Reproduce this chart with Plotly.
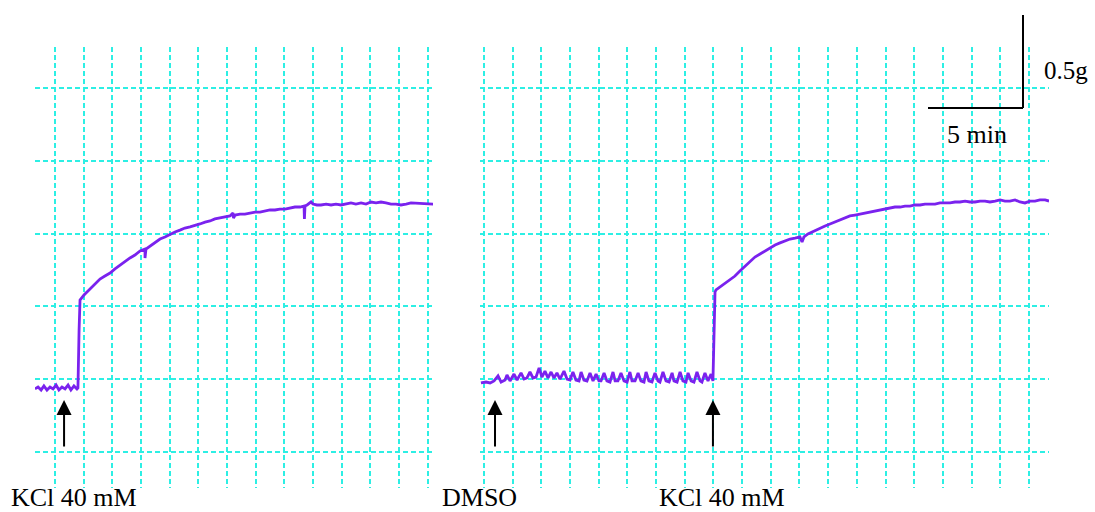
import plotly.graph_objects as go

W, H = 1095, 512

# ---------------- data (time in min, tension in g relative to left baseline) ----------------
# Left recording: KCl 40 mM
left_time = [0.00, 0.16, 0.32, 0.47, 0.63, 0.79, 0.95, 1.11, 1.26, 1.42, 1.58, 1.74, 1.89, 2.05, 2.21, 2.26,
             2.32, 2.34, 2.37, 2.58, 2.79, 3.00, 3.21, 3.42, 3.68, 3.95, 4.21, 4.47, 4.74, 5.00, 5.26,
             5.53, 5.79, 5.79, 5.84, 6.05, 6.32, 6.58, 6.84, 7.11, 7.37, 7.63, 7.89, 8.16, 8.42, 8.68,
             8.95, 9.21, 9.47, 9.74, 10.00, 10.26, 10.42, 10.45, 10.53, 10.79, 11.05, 11.32, 11.58, 11.84,
             12.11, 12.37, 12.63, 12.89, 13.16, 13.42, 13.68, 13.95, 14.16, 14.18, 14.21, 14.32, 14.53,
             14.63, 14.84, 15.05, 15.32, 15.58, 15.84, 16.11, 16.37, 16.63, 16.89, 17.16, 17.42, 17.68,
             17.95, 18.21, 18.47, 18.74, 19.00, 19.26, 19.53, 19.79, 20.95]
left_tension = [-0.005, 0.005, -0.011, 0.011, -0.011, 0.005, -0.005, 0.016, -0.011, 0.005, -0.005, 0.016,
                -0.011, 0.011, -0.005, 0.000,
                0.312, 0.473, 0.473, 0.500, 0.522, 0.543, 0.565, 0.586, 0.602, 0.618, 0.640, 0.661, 0.683,
                0.699, 0.715, 0.737, 0.747, 0.699, 0.747, 0.763, 0.780, 0.801, 0.812, 0.828, 0.839, 0.849,
                0.860, 0.866, 0.876, 0.882, 0.892, 0.898, 0.909, 0.914, 0.919, 0.925, 0.941, 0.914, 0.930,
                0.935, 0.935, 0.941, 0.946, 0.946, 0.952, 0.957, 0.957, 0.962, 0.962, 0.968, 0.973, 0.973,
                0.978, 0.909, 0.978, 0.984, 1.000, 0.989, 0.984, 0.984, 0.989, 0.984, 0.989, 0.984, 0.989,
                0.995, 0.989, 0.995, 0.989, 1.000, 0.995, 1.000, 0.995, 0.989, 0.989, 0.984, 0.989, 0.995,
                0.989]

# Right recording: DMSO then KCl 40 mM
right_time = [0.05, 0.32, 0.53, 0.74, 0.95, 1.11, 1.32, 1.42, 1.58, 1.79, 1.95, 2.16, 2.32, 2.47, 2.63, 2.79,
              2.95, 3.11, 3.26, 3.42, 3.58, 3.74, 3.89, 4.05, 4.21, 4.42, 4.58, 4.74, 4.89, 5.05, 5.21,
              5.32, 5.47, 5.63, 5.79, 5.95, 6.11, 6.26, 6.37, 6.53, 6.68, 6.84, 7.00, 7.11, 7.26, 7.42,
              7.58, 7.74, 7.89, 8.00, 8.16, 8.32, 8.47, 8.63, 8.74, 8.89, 9.05, 9.21, 9.37, 9.47, 9.63,
              9.79, 9.95, 10.11, 10.21, 10.37, 10.53, 10.68, 10.84, 10.95, 11.11, 11.26, 11.42, 11.58,
              11.68, 11.84, 12.00, 12.16, 12.26,
              12.32, 12.37, 12.42, 12.63, 12.89, 13.16, 13.42, 13.68, 13.95, 14.21, 14.47, 14.74, 15.00,
              15.26, 15.53, 15.79, 16.05, 16.32, 16.58, 16.84, 16.95, 17.05, 17.26, 17.47, 17.68, 17.89,
              18.16, 18.42, 18.68, 18.95, 19.21, 19.47, 19.74, 20.00, 20.26, 20.53, 20.79, 21.05, 21.32,
              21.58, 21.84, 22.11, 22.37, 22.63, 22.89, 23.16, 23.42, 23.68, 23.95, 24.21, 24.47, 24.74,
              25.00, 25.26, 25.53, 25.79, 26.05, 26.32, 26.58, 26.84, 27.11, 27.37, 27.63, 27.89, 28.16,
              28.42, 28.68, 28.95, 29.21, 29.47, 29.74, 29.95]
right_tension = [0.027, 0.032, 0.027, 0.038, 0.065, 0.032, 0.043, 0.070, 0.038, 0.075, 0.043, 0.081, 0.048,
                 0.054, 0.086, 0.054, 0.059, 0.108, 0.059, 0.091, 0.054, 0.086, 0.054, 0.081, 0.048, 0.091,
                 0.048, 0.043, 0.086, 0.043, 0.038, 0.086, 0.043, 0.038, 0.081, 0.038, 0.075, 0.038, 0.038,
                 0.081, 0.038, 0.032, 0.086, 0.038, 0.038, 0.081, 0.038, 0.032, 0.086, 0.038, 0.038, 0.081,
                 0.038, 0.032, 0.086, 0.038, 0.032, 0.081, 0.038, 0.032, 0.086, 0.038, 0.032, 0.081, 0.038,
                 0.032, 0.086, 0.038, 0.032, 0.081, 0.038, 0.032, 0.086, 0.038, 0.032, 0.081, 0.038, 0.075,
                 0.038,
                 0.258, 0.516, 0.527, 0.543, 0.559, 0.581, 0.602, 0.629, 0.656, 0.683, 0.704, 0.720, 0.737,
                 0.753, 0.769, 0.780, 0.790, 0.801, 0.806, 0.812, 0.785, 0.812, 0.828, 0.839, 0.849, 0.860,
                 0.871, 0.882, 0.892, 0.903, 0.914, 0.925, 0.930, 0.935, 0.941, 0.946, 0.952, 0.957, 0.962,
                 0.968, 0.973, 0.973, 0.978, 0.978, 0.984, 0.984, 0.989, 0.989, 0.989, 0.995, 0.995, 0.995,
                 1.000, 1.000, 1.005, 1.000, 1.000, 1.005, 1.005, 1.000, 1.005, 1.011, 1.005, 1.005, 1.011,
                 1.000, 0.995, 1.005, 1.005, 1.011, 1.011, 1.005, 1.005, 1.000]

# drug additions (min)
left_events = [1.53]
left_event_labels = ["KCl 40 mM"]
right_events = [0.79, 12.26]
right_event_labels = ["DMSO", "KCl 40 mM"]

# scale bar
scale_time_min = 5
scale_tension_g = 0.5
scale_time_label = "5 min"
scale_tension_label = "0.5g"

# ---------------- layout helpers ----------------
PX_PER_MIN = 19.0
PX_PER_G = 186.0
Y_BASE_PX = 388.0          # pixel row of 0 g
TOP_PX, BOT_PX = 47, 488   # plot area rows
LEFT_X0, LEFT_X1 = 35, 433
RIGHT_X0, RIGHT_X1 = 480, 1049

def px2g(py):
    return (Y_BASE_PX - py) / PX_PER_G

yrange = [px2g(BOT_PX), px2g(TOP_PX)]
grid_dx = 28.68 / PX_PER_MIN
grid_dy = 72.8 / PX_PER_G

GRID = "#2DEFE4"
TRACE = "#7A22EE"
FONT = "Liberation Serif"

fig = go.Figure()
fig.add_trace(go.Scatter(x=left_time, y=left_tension, mode="lines",
                         line=dict(color=TRACE, width=2.8), xaxis="x", yaxis="y",
                         hoverinfo="skip", showlegend=False))
fig.add_trace(go.Scatter(x=right_time, y=right_tension, mode="lines",
                         line=dict(color=TRACE, width=2.8), xaxis="x2", yaxis="y2",
                         hoverinfo="skip", showlegend=False))

def xax(x0, x1, first_grid_px, anchor):
    return dict(domain=[x0 / W, x1 / W], range=[0, (x1 - x0) / PX_PER_MIN], anchor=anchor,
                showgrid=True, gridcolor=GRID, gridwidth=2, griddash="5px,3px",
                tickmode="linear", tick0=(first_grid_px - x0) / PX_PER_MIN, dtick=grid_dx,
                showticklabels=False, ticks="", zeroline=False, showline=False, fixedrange=True)

def yax(anchor):
    return dict(domain=[1 - BOT_PX / H, 1 - TOP_PX / H], range=yrange, anchor=anchor,
                showgrid=True, gridcolor=GRID, gridwidth=2, griddash="5px,3px",
                tickmode="linear", tick0=px2g(452), dtick=grid_dy,
                showticklabels=False, ticks="", zeroline=False, showline=False, fixedrange=True)

fig.update_layout(
    width=W, height=H, margin=dict(l=0, r=0, t=0, b=0),
    paper_bgcolor="white", plot_bgcolor="rgba(0,0,0,0)",
    xaxis=xax(LEFT_X0, LEFT_X1, 55, "y"),
    xaxis2=xax(RIGHT_X0, RIGHT_X1, 484, "y2"),
    yaxis=yax("x"),
    yaxis2=yax("x2"),
    showlegend=False,
)

# arrows at drug additions
tip_g = px2g(400)
tail_g = px2g(448)
for xr, yr, evs in [("x", "y", left_events), ("x2", "y2", right_events)]:
    for t in evs:
        fig.add_annotation(x=t, y=tip_g, ax=t, ay=tail_g, xref=xr, yref=yr, axref=xr, ayref=yr,
                           text="", showarrow=True, arrowhead=2, arrowsize=1.5, arrowwidth=2,
                           arrowcolor="black", standoff=0)

# event labels
label_pos = {("L", 0): 9, ("R", 0): 440, ("R", 1): 657}
for i, lab in enumerate(left_event_labels):
    fig.add_annotation(x=label_pos[("L", i)] / W, y=1 - 497 / H, xref="paper", yref="paper",
                       text=lab, showarrow=False, xanchor="left", yanchor="middle",
                       font=dict(family=FONT, size=26, color="black"))
for i, lab in enumerate(right_event_labels):
    fig.add_annotation(x=label_pos[("R", i)] / W, y=1 - 497 / H, xref="paper", yref="paper",
                       text=lab, showarrow=False, xanchor="left", yanchor="middle",
                       font=dict(family=FONT, size=26, color="black"))

# scale bar (paper coords derived from scale values)
corner_x, corner_y = 1023, 108
bar_x0 = corner_x - scale_time_min * PX_PER_MIN
bar_y1 = corner_y - scale_tension_g * PX_PER_G
fig.add_shape(type="line", xref="paper", yref="paper",
              x0=bar_x0 / W, x1=corner_x / W, y0=1 - corner_y / H, y1=1 - corner_y / H,
              line=dict(color="black", width=2))
fig.add_shape(type="line", xref="paper", yref="paper",
              x0=corner_x / W, x1=corner_x / W, y0=1 - corner_y / H, y1=1 - bar_y1 / H,
              line=dict(color="black", width=2))
fig.add_annotation(x=1042 / W, y=1 - 70 / H, xref="paper", yref="paper", text=scale_tension_label,
                   showarrow=False, xanchor="left", yanchor="middle",
                   font=dict(family=FONT, size=25, color="black"))
fig.add_annotation(x=945 / W, y=1 - 134 / H, xref="paper", yref="paper", text=scale_time_label,
                   showarrow=False, xanchor="left", yanchor="middle",
                   font=dict(family=FONT, size=26, color="black"))

fig.write_html("out.html")
